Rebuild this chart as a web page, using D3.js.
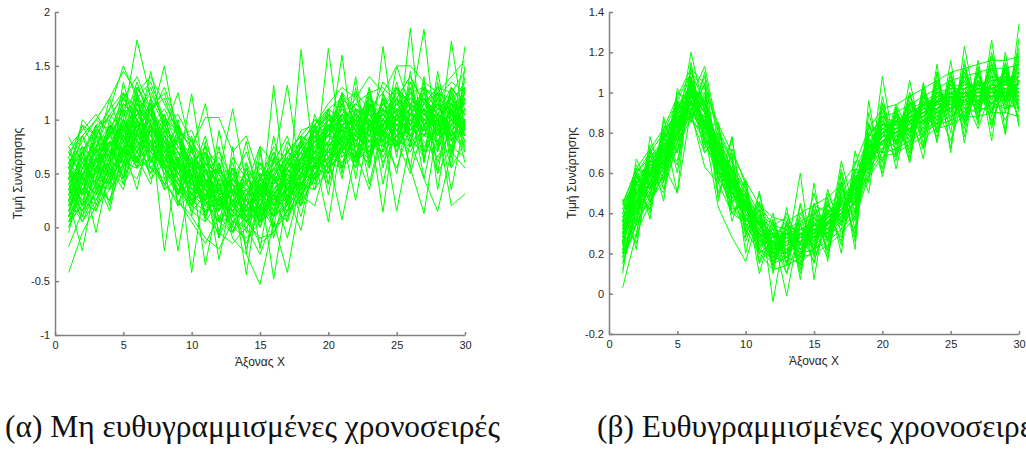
<!DOCTYPE html>
<html>
<head>
<meta charset="utf-8">
<script src="https://cdn.jsdelivr.net/npm/d3@7"></script>
<style>
  html, body { margin: 0; padding: 0; background: #fff; }
  svg { display: block; }
  .tick text { font-family: "Liberation Sans", Arial, sans-serif; font-size: 11px; fill: #262626; }
  .axis path, .axis line { stroke: #808080; stroke-width: 1.5; }
  .axlabel { font-family: "Liberation Sans", Arial, sans-serif; font-size: 12px; fill: #262626; }
  .caption { font-family: "Liberation Serif", "Times New Roman", serif; font-size: 32px; fill: #111; }
</style>
</head>
<body>
<svg id="chart" width="1026" height="452"></svg>
<script>
// x positions 1..30 shared by every series
const xs = d3.range(1, 31);

const xTicks = [0, 5, 10, 15, 20, 25, 30];
const yTicksA = [-1, -0.5, 0, 0.5, 1, 1.5, 2];
const yTicksB = [-0.2, 0, 0.2, 0.4, 0.6, 0.8, 1, 1.2, 1.4];

const yLabel = "Τιμή Συνάρτησης";
const xLabel = "Άξονας Χ";
const captionA = "(α) Μη ευθυγραμμισμένες χρονοσειρές";
const captionB = "(β) Ευθυγραμμισμένες χρονοσειρές";

// (α) unaligned time series
const seriesA = [
  [.30,.55,.70,.85,1.05,1.20,.95,.80,.60,.45,.30,.20,.15,.05,.20,.30,.45,.60,.80,.95,.90,.85,1.00,1.05,.95,1.10,1.20,1.00,.95,1.10],
  [.10,.35,.50,.60,.80,1.00,1.10,.90,.70,.55,.40,.35,.25,.20,.10,.25,.35,.40,.55,.75,.90,.80,.95,.85,1.10,1.00,.90,1.15,1.05,.95],
  [.55,.70,.90,1.10,1.25,1.00,.80,.55,.40,.30,.20,.05,.10,.25,.40,.55,.70,.85,1.00,.95,1.05,.90,1.10,1.00,1.20,1.05,1.00,.85,1.10,1.25],
  [-.42,-.05,.20,.35,.55,.75,.95,1.10,.85,.65,.50,.35,.20,.05,-.10,-.05,.15,.30,.50,.65,.80,.75,.90,.95,.85,1.00,1.10,.95,1.05,1.15],
  [.84,.60,.75,.95,.85,1.30,1.05,.70,.50,.60,.35,.40,.15,.30,.45,.35,.60,.75,.70,.90,1.10,.95,.85,1.20,1.05,.90,1.15,.95,1.25,1.05],
  [.20,.45,.30,.65,.90,.75,.55,.40,.25,.05,-.15,.10,-.05,.20,.30,.50,.65,.80,.95,1.05,.90,1.00,.85,.95,1.10,1.20,1.05,1.15,.90,1.00],
  [.45,.25,.55,.50,.75,1.05,1.25,1.00,.85,.60,.55,.30,.45,.20,.35,.15,.40,.55,.65,.60,.85,1.10,1.00,.90,1.00,1.25,.95,1.05,.85,.95],
  [.05,.30,.45,.40,.70,.60,.90,.75,.55,.70,.45,.30,.35,.40,.20,.45,.30,.50,.70,.85,.80,1.00,1.15,1.00,.95,.90,1.05,1.20,1.10,.85],
  [.60,.85,1.00,1.20,1.45,1.25,.95,.65,.50,.35,.40,.25,.30,.10,.25,.40,.55,.75,.90,1.10,1.20,1.05,.95,1.10,1.30,1.15,1.00,1.10,1.20,1.30],
  [.35,.15,.40,.60,.55,.85,1.00,1.50,.80,.55,.65,.45,.30,.35,.05,.20,.35,.25,.45,.60,.75,.90,.80,1.00,.85,1.05,.95,.80,1.00,.90],
  [.25,.50,.65,.80,.70,1.00,.80,.65,.70,.40,.25,.15,.35,.10,.15,.30,.10,.40,.60,.75,.95,.85,.75,.95,1.00,.85,1.10,1.00,.90,1.05],
  [.70,.55,.85,.75,1.00,1.74,1.20,.95,.75,.55,.45,.35,.40,.20,.35,.50,.60,.45,.75,.90,1.00,1.10,1.05,.85,1.15,1.25,1.00,1.05,.95,1.20],
  [-.18,.15,.30,.55,.45,.70,.90,.85,.65,.45,.30,.50,.20,.15,.30,.10,.25,.45,.60,.70,.65,.80,.95,1.05,.90,1.00,.85,1.10,1.05,1.00],
  [.50,.40,.60,.85,1.05,.90,1.15,.75,.55,.45,.20,.30,.10,.25,.10,.35,.50,.65,.85,1.00,.95,1.05,.90,1.15,1.05,.95,1.20,.90,1.00,.80],
  [.15,.55,.80,.70,.95,.80,.65,.40,.25,.10,-.10,-.20,.05,.15,.35,.55,.50,.70,.90,.85,1.00,.80,.95,.90,.75,1.05,.90,1.00,1.15,1.05],
  [.65,.95,.85,1.05,1.20,1.40,1.10,.85,.60,.50,.35,.25,.45,.30,.50,.40,.70,.85,.75,1.00,1.15,1.25,1.10,1.00,1.20,1.05,1.30,1.15,1.05,1.25],
  [.30,.10,.35,.25,.55,.45,.80,.95,1.05,.80,.60,.40,.35,.15,.20,.00,.10,.30,.45,.55,.70,.65,.80,.75,.90,1.00,.85,.95,.80,.95],
  [.40,.65,.50,.75,.90,1.10,.95,.70,.85,.55,.60,.40,.25,.40,.20,.55,.35,.60,.80,.75,.90,.85,1.05,.95,1.00,1.10,1.05,.90,1.10,1.15],
  [.00,.25,.15,.45,.65,.85,.70,.55,.35,.20,.10,-.05,-.15,.00,-.25,.10,.20,.35,.55,.65,.60,.75,.70,.85,.80,.95,.75,.90,.85,1.00],
  [.55,.80,1.00,.90,1.15,1.00,.85,.60,.45,.25,.35,.10,.20,.05,.15,.25,.45,.60,.55,.80,.95,1.00,1.20,1.10,.95,1.05,1.15,1.25,1.00,.90],
  [.45,.30,.65,.95,.80,.70,1.05,1.30,.95,.70,.50,.55,.30,.45,.30,.20,.50,.40,.65,.80,.70,.95,.85,1.05,1.15,.95,1.00,1.10,1.20,1.05],
  [.25,.60,.45,.70,.60,.95,.75,.50,.30,.45,.15,.25,.00,-.10,.05,.30,.15,.45,.70,.90,1.05,.90,1.00,.80,.95,.85,.95,1.05,.95,.85],
  [.60,.45,.70,.85,1.10,1.25,1.40,1.15,.90,.75,.55,.40,.45,.35,.45,.60,.55,.80,.95,1.10,1.00,1.15,1.25,1.30,1.15,1.20,1.10,1.25,1.15,1.35],
  [.15,.40,.65,.55,.40,.65,.55,.45,.20,.30,.25,.05,-.05,.10,-.15,-.05,.25,.40,.35,.55,.70,.60,.75,.70,.85,.80,.70,.75,.90,.70],
  [.35,.50,.55,.80,.95,.85,1.00,.65,.40,.55,.35,.25,.15,.35,.40,.25,.45,.55,.70,.95,.85,.95,1.10,.90,1.05,1.15,.95,1.00,.95,1.10],
  [.50,.70,.95,1.00,1.25,1.10,.75,.55,.65,.40,.30,.35,.25,.15,.30,.45,.40,.65,.80,.70,.85,1.05,.95,1.00,.90,1.00,1.10,.85,1.00,.95],
  [.20,.35,.25,.50,.70,.65,.90,1.05,.75,.60,.40,.20,.30,.25,.05,.15,.30,.20,.50,.65,.80,.70,.85,.80,1.00,.90,1.00,.95,.85,.95],
  [.40,.60,.80,.65,.90,1.15,.95,.80,.50,.35,.45,.30,.10,.20,.35,.30,.55,.70,.90,1.05,.90,1.00,.95,1.10,1.00,1.15,1.05,.95,1.05,1.00],
  [.10,.20,.40,.35,.60,.55,.75,.60,.45,.25,.15,.30,.05,.00,.20,.10,.35,.50,.45,.60,.55,.70,.65,.90,.80,.75,.85,.80,.95,.85],
  [.70,.85,.65,.95,.85,1.05,.85,.70,.80,.60,.70,.50,.55,.40,.60,.45,.55,.75,.85,.95,1.10,.95,1.15,1.05,1.25,1.15,1.20,1.05,1.15,1.20],
  [.55,.95,.70,1.20,.80,1.10,.70,1.05,.55,1.24,.40,.60,.20,.55,.10,1.32,.20,1.65,.55,1.66,.70,1.40,.60,1.68,.75,1.85,.60,1.45,.80,1.68],
  [.25,-.22,.45,.15,.75,.35,.95,-.22,.65,-.42,.45,-.30,.35,-.44,.40,-.48,.30,-.03,.65,.05,.85,.25,.95,.14,1.10,.55,.13,.95,.20,.31],
  [.70,.45,.95,.60,1.35,.85,1.45,.90,1.25,.70,1.15,.50,1.10,.40,.75,.60,1.32,.45,1.05,.75,1.60,.65,1.20,.80,1.50,1.10,1.84,.70,1.73,.90],
  [-.05,.50,-.05,.55,.35,.90,.45,.60,-.22,.50,-.35,.30,-.10,-.25,-.53,.05,-.42,.30,.20,.65,.07,.70,.35,.90,.15,.80,.45,.15,.70,.55],
  [.45,1.00,.85,1.10,1.50,1.20,1.35,1.00,.90,.75,1.02,1.02,.70,.85,.45,.75,.60,.90,.95,1.15,1.30,1.20,1.40,1.25,1.50,1.50,1.35,1.25,1.40,1.55],
  [.05,.20,.65,.20,.95,.60,.80,.35,.45,.15,.30,-.10,.25,-.20,.30,.00,.15,.25,.60,.40,.80,.55,.95,.60,.85,.70,.95,.50,.75,.65],
  [.50,.75,.55,.95,.70,1.30,1.10,1.20,.85,.90,.60,.70,.45,.60,.30,.65,.40,.75,1.00,.90,1.25,1.10,1.00,1.35,1.20,1.40,1.15,1.30,1.25,1.45],
  [.15,.45,.30,.80,.45,1.00,.55,.75,.30,.55,.10,.45,-.05,.30,.05,.35,-.10,.40,.35,.75,.55,.90,.65,1.10,.70,1.05,.65,1.00,.55,.80],
  [.35,.60,.40,.70,1.00,.80,1.20,.70,.95,.45,.70,.15,.55,.05,.40,.20,.55,.30,.85,.55,1.05,.75,1.15,.85,1.30,.95,1.20,.85,1.30,1.10],
  [.60,.30,.75,.45,.80,.55,.65,.40,.60,.25,.55,.20,.40,.10,.45,.15,.50,.35,.70,.50,.95,.60,1.00,.65,.95,.80,1.10,.75,1.00,.95],
  [.50,.20,.85,.40,1.10,.60,1.20,.45,.85,.20,.70,.05,.55,-.05,.50,.10,.75,.30,.95,.55,1.15,.60,1.25,.70,1.30,.80,1.35,.75,1.30,.85],
  [.20,.70,.35,.95,.55,1.25,.60,1.00,.30,.75,.10,.60,.00,.55,.05,.65,.20,.80,.45,1.05,.55,1.10,.65,1.20,.75,1.30,.70,1.25,.70,1.40],
  [.65,.30,.90,.55,1.00,.75,1.10,.60,.90,.35,.55,.15,.40,.10,.35,.25,.60,.50,.90,.70,1.05,.80,.95,1.00,1.20,.95,1.25,.90,1.10,.80],
  [.05,.45,.15,.60,.85,.55,1.00,.80,.45,.60,.20,.40,.05,.20,.00,.30,.15,.65,.55,.95,.75,1.00,.80,.70,1.05,.85,1.15,1.00,.75,1.20],
  [.40,.65,.95,.70,.65,1.15,.90,.55,.65,.30,.45,.20,.50,.25,.05,.40,.55,.35,.75,.85,1.25,.95,.70,1.10,.90,1.20,1.10,.95,1.20,1.05],
  [.30,.55,.45,.90,1.20,.95,.75,.85,.50,.40,.60,.35,.15,.45,.30,.10,.40,.60,.85,.65,.95,1.15,1.00,.85,1.00,1.30,.95,1.15,.85,1.00],
  [.55,.40,.75,1.05,.90,1.05,1.30,.95,.70,.45,.30,.50,.25,.05,.25,.45,.25,.50,.70,1.00,.85,.80,1.10,1.25,.95,1.10,1.20,1.05,.95,1.25],
  [.25,.05,.35,.55,.50,.80,.70,.55,.35,.50,.25,.05,.20,.35,.15,.30,.50,.30,.55,.50,.75,.65,.95,.80,.75,.95,.80,.65,.90,.75],
  [.75,.90,1.05,.85,1.10,.95,.80,.60,.75,.55,.30,.45,.35,.15,.30,.55,.35,.65,.95,.85,1.05,1.20,.95,1.15,1.30,1.10,.90,1.05,1.30,1.15],
  [.10,.35,.60,.85,.65,.90,1.10,1.25,.90,.80,.55,.20,.40,.30,.50,.20,.05,.45,.65,.55,.85,.75,.80,1.05,.85,.90,1.05,.90,1.10,.95],
  [.45,.60,.40,.65,.95,1.35,.95,.75,.45,.20,.40,.55,.30,.50,.25,.50,.65,.50,.70,1.00,.90,1.05,1.15,.95,1.10,1.05,1.25,1.10,1.00,1.30],
  [.35,.15,.55,.75,1.00,.70,.50,.65,.40,.15,.05,.25,.10,-.15,.15,.35,.45,.20,.50,.70,.60,.85,.75,1.00,.90,.75,1.00,.85,1.05,.75],
  [.60,.75,.60,.90,.80,1.20,1.05,.80,.55,.65,.45,.30,.55,.35,.20,.40,.60,.80,.65,.90,1.15,.90,1.05,.95,1.20,1.40,1.15,1.30,1.05,1.15],
  [.15,.50,.70,.50,.75,.95,.80,.50,.60,.35,.25,.35,.15,.30,.45,.25,.35,.55,.80,.85,.70,.95,.85,1.15,1.00,1.10,.90,1.00,1.15,.90],
  [.50,.35,.55,.70,.60,.85,.75,.90,.70,.60,.75,.55,.35,.20,.40,.55,.70,.60,.85,1.05,.95,.80,1.00,.90,1.05,1.25,1.30,1.20,1.35,1.25],
  [.30,.75,.20,.60,1.00,.55,1.15,.70,.30,.85,.25,.75,.10,.60,-.20,.50,.05,.85,.40,1.10,.50,1.30,.55,1.25,.65,1.45,.60,1.35,.55,1.50],
  [.60,.10,.55,.90,.45,1.20,.65,.35,.95,.10,.80,-.10,.75,-.25,.70,.00,.65,.20,.95,.40,1.25,.45,1.15,.40,1.05,.55,1.30,.35,1.10,.60],
  [.00,.40,.75,.35,.85,.65,.40,1.00,.20,.65,.05,.90,.30,.80,.15,.85,.25,.60,.90,.30,.95,.60,1.30,.55,1.20,.75,1.40,.50,1.25,.70],
  [.45,.85,.50,1.00,.60,.95,.60,.90,.20,.50,.85,.35,.60,.15,.75,-.10,.40,.70,.35,.95,.45,1.05,.40,.95,.50,1.15,.45,1.05,.35,1.00],
  [.25,.55,.85,.45,1.25,.80,.50,.85,.45,.20,.55,-.05,.45,.70,.30,.60,.85,.40,.70,.50,1.00,.80,.55,1.20,.70,1.00,.85,1.20,.65,1.30],
  [.55,.20,.45,.80,.40,.90,1.10,.55,.30,.75,.35,.15,.65,.45,.00,.45,.20,.50,.80,1.10,.65,.85,1.30,.75,.85,1.35,.95,.70,1.15,.85],
  [.10,.65,.40,.25,.70,.95,.60,.80,.55,.30,.60,.50,.20,.55,.35,.70,.45,.10,.60,.90,1.20,.70,.60,1.00,.80,.50,.95,1.25,.70,1.00],
  [.75,.45,.95,.65,1.15,1.00,.70,.60,.30,.60,.10,.35,.55,.25,.60,.20,.55,.75,.50,.70,.90,.55,1.10,.85,1.35,.85,.65,1.00,1.20,.95],
  [.40,.05,.25,.60,.85,.70,.95,.60,1.00,.45,.75,.30,-.05,.30,.55,.45,.80,.55,.95,.65,.80,1.10,.95,.80,.55,.95,1.20,1.00,.80,1.10],
  [.35,.70,.55,.40,.75,1.10,.85,1.05,.60,.30,.50,.65,.40,.05,.45,.70,.35,.65,.45,.95,.75,1.00,.65,.95,1.15,.90,1.10,.60,.95,1.20]
];

// (β) aligned time series
const seriesB = [
  [.30,.50,.60,.70,.85,1.00,.90,.70,.55,.40,.30,.25,.20,.30,.28,.35,.40,.52,.72,.80,.85,.88,.90,.95,.98,1.00,.98,1.02,1.05,1.00],
  [.25,.45,.55,.65,.80,.95,.85,.65,.52,.45,.35,.20,.25,.22,.32,.30,.45,.48,.68,.78,.80,.85,.92,.90,.95,1.02,1.00,.98,1.00,1.05],
  [.35,.55,.62,.72,.88,1.05,.92,.72,.60,.45,.28,.30,.22,.28,.25,.38,.40,.55,.75,.85,.82,.90,.88,.98,1.00,.95,1.05,1.00,.98,1.08],
  [.20,.40,.52,.62,.78,.92,.82,.62,.50,.38,.25,.18,.28,.20,.35,.32,.38,.45,.65,.75,.78,.80,.85,.88,.92,.95,.98,.95,1.00,.98],
  [.40,.58,.65,.75,.90,1.10,.95,.75,.58,.48,.38,.28,.30,.35,.30,.40,.48,.55,.78,.88,.85,.92,.95,1.00,1.02,1.05,1.02,1.08,1.05,1.10],
  [.15,.35,.48,.58,.75,.90,.80,.60,.45,.35,.22,.15,.18,.15,.22,.28,.35,.42,.62,.72,.75,.78,.82,.85,.88,.92,.90,.95,.92,.95],
  [.32,.48,.70,.68,.82,.98,1.00,.70,.55,.42,.35,.22,.28,.25,.35,.30,.45,.50,.70,.82,.80,.88,.90,.95,.97,.98,1.02,1.00,1.00,1.02],
  [.28,.52,.58,.78,.85,1.02,.85,.65,.58,.40,.30,.26,.20,.32,.28,.36,.42,.48,.70,.78,.85,.84,.92,.92,.99,1.00,.98,1.04,1.00,1.00],
  [.03,.30,.45,.60,.78,.95,.88,.68,.52,.38,.28,.18,.22,.28,.30,.32,.40,.50,.68,.80,.82,.86,.88,.94,.95,.98,1.00,.98,1.02,1.04],
  [.45,.62,.60,.80,.90,1.05,.95,.72,.62,.50,.38,.32,.30,.25,.32,.38,.45,.55,.72,.82,.86,.90,.94,.96,1.00,1.02,1.05,1.02,1.06,1.08],
  [.38,.55,.65,.70,.82,.95,.85,.70,.50,.40,.30,.25,.28,.24,.28,.36,.40,.52,.70,.78,.80,.86,.88,.92,.94,.98,1.00,1.00,1.02,1.00],
  [.22,.42,.56,.66,.86,1.00,.90,.66,.56,.44,.34,.22,.24,.30,.26,.34,.44,.48,.70,.84,.82,.88,.90,.92,.98,.96,1.00,1.02,1.00,1.04],
  [.33,.50,.62,.72,.80,1.20,.90,.70,.54,.42,.30,.24,.26,.28,.32,.34,.42,.50,.72,.80,.84,.86,.92,.94,.96,1.00,1.02,.98,1.04,1.02],
  [.30,.46,.55,.66,.84,.98,1.13,.80,.60,.46,.34,.26,.22,.26,.30,.36,.40,.52,.68,.80,.82,.84,.90,.92,.96,.98,1.00,1.02,1.00,1.00],
  [.18,.38,.50,.60,.76,.90,.84,.64,.48,.38,.26,.20,.20,.24,.28,.30,.38,.46,.66,.76,.78,.82,.86,.90,.92,.94,.96,.98,.98,1.00],
  [.42,.60,.68,.76,.92,1.04,.92,.74,.60,.48,.36,.30,.30,.32,.34,.40,.46,.56,.74,.84,.86,.90,.94,.98,1.00,1.04,1.04,1.06,1.06,1.10],
  [.25,.67,.52,.78,.70,1.08,.82,.85,.45,.57,.20,.37,.15,.45,.20,.50,.35,.62,.60,.92,.75,.98,.85,1.05,.90,1.12,.95,1.15,.95,1.20],
  [.47,.22,.70,.46,.95,.85,1.05,.55,.78,.30,.45,-.04,.35,.10,.40,.22,.55,.28,.85,.62,.93,.70,1.02,.80,1.10,.85,1.10,.90,1.15,.92],
  [.10,.56,.40,.88,.60,1.02,.70,.80,.40,.50,.15,.30,-.01,.35,.15,.42,.26,.62,.55,1.08,.68,1.00,.72,1.14,.70,1.16,.84,1.26,.80,1.34],
  [.36,.28,.78,.55,1.02,.88,.98,.50,.70,.20,.51,.10,.43,.07,.55,.16,.60,.22,.96,.58,.90,.65,1.05,.75,1.16,.75,1.13,.76,1.20,.83],
  [.40,.60,.37,.82,.50,1.15,.75,.62,.40,.48,.10,.34,.20,.60,.07,.48,.20,.71,.50,.95,.62,.92,.67,1.10,.72,1.23,.88,1.10,.79,1.27],
  [.20,.62,.45,.60,.98,.90,.80,.43,.28,.16,.40,.14,.30,.18,.45,.26,.66,.40,.74,.70,.88,.76,.96,.86,1.06,.92,1.08,.96,1.12,.98],
  [.34,.44,.74,.64,.88,.86,1.10,.76,.62,.52,.26,.28,.36,.22,.26,.44,.36,.54,.80,.86,.78,.95,.86,1.00,.92,1.08,.94,1.12,.98,1.16],
  [.28,.58,.50,.72,.80,1.06,.74,.68,.56,.36,.38,.20,.32,.14,.38,.30,.50,.44,.76,.74,.90,.80,.98,.88,1.04,.90,1.06,.94,1.10,.96],
  [.32,.46,.66,.62,.92,.96,.96,.60,.50,.44,.24,.30,.18,.34,.22,.40,.34,.58,.66,.82,.76,.90,.84,.98,.90,1.00,.92,1.04,.96,1.06],
  [.24,.52,.58,.70,.78,1.00,.86,.70,.58,.40,.32,.22,.26,.30,.26,.36,.44,.46,.72,.80,.84,.82,.94,.90,.96,1.04,.98,1.00,1.04,.98],
  [.36,.40,.62,.74,.86,.94,.78,.66,.48,.46,.28,.26,.30,.20,.34,.32,.38,.54,.68,.84,.80,.88,.88,.96,.98,.96,1.02,1.00,.98,1.06],
  [.26,.50,.54,.64,.50,.92,.88,.72,.52,.38,.34,.28,.22,.28,.30,.38,.42,.48,.70,.78,.86,.86,.90,.94,.94,1.00,1.00,1.04,1.02,1.02],
  [.30,.48,.60,.70,.84,1.00,.90,.68,.56,.42,.30,.16,.26,.26,.28,.34,.40,.52,.70,.82,.80,.88,.92,.92,1.00,1.02,1.04,1.00,1.04,1.06],
  [.38,.54,.64,.68,.86,.98,.86,.66,.54,.44,.32,.26,.24,.30,.32,.32,.44,.50,.72,.78,.82,.84,.88,.96,.94,.98,1.00,1.02,1.06,1.00],
  [.18,.44,.50,.68,.80,.96,.84,.64,.50,.40,.26,.24,.20,.26,.24,.30,.36,.46,.66,.76,.78,.82,.86,.90,.92,.96,.96,.98,1.00,.96],
  [.44,.56,.66,.76,.88,1.02,.94,.74,.60,.46,.36,.30,.28,.32,.36,.38,.46,.54,.74,.84,.84,.90,.94,.98,1.02,1.02,1.04,1.06,1.08,1.06],
  [.30,.52,.62,.72,.84,.94,.88,.70,.56,.40,.32,.24,.26,.24,.30,.34,.40,.52,.66,.82,.82,.86,.90,.94,.96,1.00,.98,1.00,1.02,1.04],
  [.34,.46,.58,.66,.82,1.00,.84,.66,.54,.44,.34,.20,.24,.28,.30,.36,.42,.50,.70,.80,.84,.86,.90,.92,.98,.98,1.02,1.02,1.00,1.02],
  [.20,.40,.55,.62,.80,.90,.63,.55,.40,.35,.22,.18,.16,.20,.22,.26,.32,.40,.60,.70,.72,.76,.80,.84,.86,.90,.92,.92,.94,.92],
  [.36,.60,.70,.80,.96,1.10,1.02,.82,.66,.52,.40,.34,.32,.36,.40,.44,.50,.60,.78,.88,.90,.94,.98,1.02,1.06,1.08,1.10,1.12,1.12,1.14],
  [.38,.42,.66,.62,.90,.92,.94,.62,.60,.36,.36,.18,.30,.20,.36,.28,.48,.44,.76,.74,.88,.80,.96,.86,1.04,.92,1.06,.94,1.08,.96],
  [.22,.56,.52,.74,.78,1.04,.82,.74,.50,.48,.28,.30,.18,.34,.24,.40,.36,.56,.64,.86,.76,.92,.84,1.00,.90,1.06,.94,1.08,.96,1.12],
  [.30,.40,.68,.60,.94,.88,.96,.58,.62,.34,.38,.16,.32,.18,.38,.26,.50,.40,.80,.70,.90,.78,.98,.84,1.06,.88,1.10,.90,1.12,.92],
  [.26,.60,.48,.80,.76,1.08,.80,.78,.48,.50,.26,.32,.16,.38,.22,.44,.34,.60,.62,.90,.74,.96,.80,1.04,.86,1.10,.92,1.14,.94,1.16],
  [.34,.50,.58,.70,.86,.96,.86,.66,.58,.42,.30,.26,.22,.30,.34,.32,.44,.48,.72,.78,.86,.82,.92,.90,1.00,.96,1.04,.98,1.06,1.00],
  [.28,.44,.64,.66,.82,1.02,.90,.70,.52,.44,.32,.22,.28,.26,.28,.38,.40,.52,.66,.84,.80,.90,.88,.96,.94,1.02,.98,1.02,1.00,1.08],
  [.16,.36,.46,.56,.72,.88,.76,.58,.44,.32,.20,.12,.14,.18,.20,.24,.30,.38,.58,.68,.70,.74,.78,.82,.84,.88,.88,.90,.90,.88],
  [.44,.62,.72,.82,.98,1.12,1.04,.84,.70,.56,.44,.38,.36,.40,.44,.48,.54,.64,.82,.92,.94,.98,1.02,1.06,1.10,1.12,1.14,1.16,1.16,1.18],
  [.12,.46,.42,.72,.66,1.00,.76,.72,.42,.44,.20,.26,.10,.30,.16,.36,.28,.50,.58,.80,.72,.88,.78,.96,.84,1.02,.90,1.06,.92,1.10],
  [.46,.36,.72,.56,.96,.86,1.00,.56,.66,.30,.42,.12,.36,.14,.42,.22,.54,.36,.84,.66,.92,.74,1.00,.82,1.08,.86,1.12,.88,1.14,.90],
  [.32,.54,.56,.74,.84,1.00,.92,.66,.58,.42,.34,.24,.26,.30,.28,.36,.42,.54,.68,.80,.84,.88,.90,.96,.96,1.00,1.02,1.00,1.04,1.04],
  [.24,.46,.60,.66,.80,.94,.86,.70,.54,.40,.30,.26,.22,.26,.32,.32,.40,.48,.70,.76,.82,.86,.88,.92,.98,.98,1.00,1.04,1.02,1.02],
  [.36,.58,.54,.78,.82,1.06,.84,.76,.56,.46,.28,.32,.20,.34,.26,.42,.38,.58,.66,.88,.78,.94,.82,1.02,.88,1.08,.92,1.12,.94,1.14],
  [.20,.38,.64,.58,.88,.90,.92,.60,.58,.36,.36,.18,.30,.22,.34,.28,.46,.42,.74,.72,.86,.78,.94,.84,1.02,.88,1.04,.90,1.06,.92],
  [.40,.25,.60,.50,.95,.88,.70,.80,.65,.30,.42,.20,.35,.12,.45,.20,.48,.30,.90,.65,.92,.68,1.04,.80,.98,.82,1.10,.84,1.08,.86],
  [.25,.52,.48,.86,.70,1.00,.90,.48,.72,.54,.22,.40,.14,.40,.28,.46,.24,.66,.56,.98,.70,1.06,.74,1.10,.80,1.14,.86,1.20,.90,1.18],
  [.30,.60,.46,.64,.96,.92,1.04,.46,.78,.28,.50,.22,.40,.24,.50,.26,.62,.32,.78,.60,.90,.66,1.00,.76,1.10,.78,1.16,.82,1.12,.84],
  [.18,.34,.72,.52,.74,1.12,.76,.70,.36,.56,.16,.36,.10,.44,.18,.52,.30,.48,.64,.76,.68,.86,.72,.92,.76,.98,.82,1.02,.86,1.06],
  [.42,.46,.58,.82,.88,.90,1.08,.64,.54,.26,.44,.34,.38,.16,.40,.34,.56,.26,.80,.84,.84,.72,1.02,.86,.98,.86,1.10,.92,1.08,1.00],
  [.36,.64,.52,.68,1.00,.96,.72,.84,.46,.52,.30,.14,.34,.30,.22,.44,.36,.60,.62,.94,.74,1.00,.78,1.06,.86,1.00,.90,1.18,.96,1.22],
  [.22,.30,.60,.74,.64,1.04,.94,.56,.68,.32,.46,.20,.18,.36,.32,.18,.52,.38,.74,.70,.94,.80,.94,.78,1.00,.84,1.02,.86,1.02,.88],
  [.46,.54,.42,.78,.92,.86,.80,.72,.40,.46,.24,.28,.30,.20,.44,.40,.32,.56,.72,.88,.66,.94,.84,.98,.92,1.10,.96,1.04,1.10,.94]
];

const svg = d3.select("#chart");
const fmt = v => String(Math.round(v * 10) / 10);

function panel(cfg) {
  const x = d3.scaleLinear().domain([0, 30]).range([cfg.left, cfg.right]);
  const y = d3.scaleLinear().domain(cfg.yDomain).range([cfg.bottom, cfg.top]);
  const g = svg.append("g");

  const line = d3.line().x((d, i) => x(xs[i])).y(d => y(d));
  g.append("g")
    .selectAll("path")
    .data(cfg.series)
    .join("path")
    .attr("d", line)
    .attr("fill", "none")
    .attr("stroke", "#00ff00")
    .attr("stroke-width", 1);

  g.append("g")
    .attr("class", "axis")
    .attr("transform", `translate(0,${cfg.bottom})`)
    .call(d3.axisBottom(x).tickValues(xTicks).tickFormat(fmt)
      .tickSizeInner(-3).tickSizeOuter(0).tickPadding(6));

  g.append("g")
    .attr("class", "axis")
    .attr("transform", `translate(${cfg.left},0)`)
    .call(d3.axisLeft(y).tickValues(cfg.yTicks).tickFormat(fmt)
      .tickSizeInner(-4).tickSizeOuter(0).tickPadding(5));

  g.append("text")
    .attr("class", "axlabel")
    .attr("text-anchor", "middle")
    .attr("x", (cfg.left + cfg.right) / 2)
    .attr("y", cfg.bottom + 31)
    .text(xLabel);

  g.append("text")
    .attr("class", "axlabel")
    .attr("text-anchor", "middle")
    .attr("transform", `translate(${cfg.left - 33},${(cfg.top + cfg.bottom) / 2}) rotate(-90)`)
    .text(yLabel);
}

panel({ left: 55, right: 465, top: 12, bottom: 335, yDomain: [-1, 2],
        yTicks: yTicksA, series: seriesA });
panel({ left: 609, right: 1019, top: 12, bottom: 334, yDomain: [-0.2, 1.4],
        yTicks: yTicksB, series: seriesB });

// captions: condensed serif, both squeezed by the same factor;
// the second one runs past the right edge of the page
const capA = svg.append("text").attr("class", "caption").attr("x", 5).attr("y", 437).text(captionA);
const capB = svg.append("text").attr("class", "caption").attr("x", 597).attr("y", 437).text(captionB);
const squeeze = 495 / capA.node().getComputedTextLength();
[capA, capB].forEach(t => {
  t.attr("textLength", t.node().getComputedTextLength() * squeeze)
   .attr("lengthAdjust", "spacingAndGlyphs");
});
</script>
</body>
</html>
